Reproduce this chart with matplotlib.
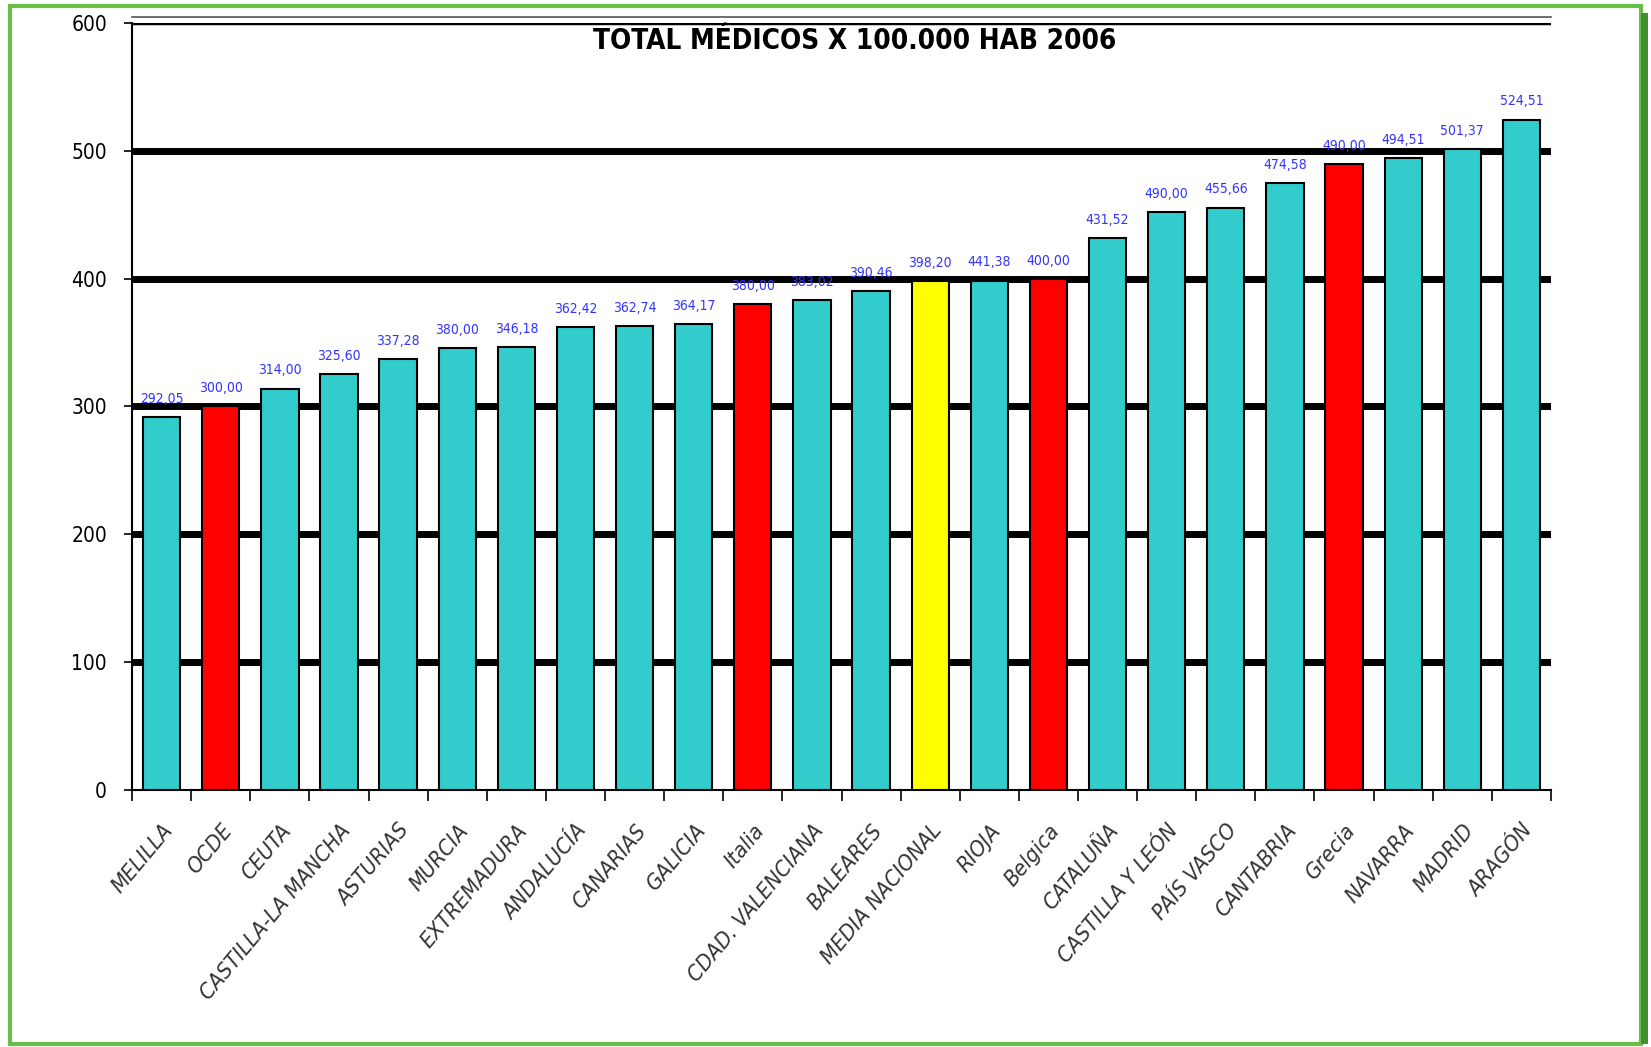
import matplotlib.pyplot as plt
import numpy as np
from matplotlib.patches import Rectangle

regiones = ['MELILLA', 'OCDE', 'CEUTA', 'CASTILLA-LA MANCHA', 'ASTURIAS', 'MURCIA',
            'EXTREMADURA', 'ANDALUCÍA', 'CANARIAS', 'GALICIA', 'Italia',
            'CDAD. VALENCIANA', 'BALEARES', 'MEDIA NACIONAL', 'RIOJA', 'Belgica',
            'CATALUÑA', 'CASTILLA Y LEÓN', 'PAÍS VASCO', 'CANTABRIA', 'Grecia',
            'NAVARRA', 'MADRID', 'ARAGÓN']
medicos = [292.05, 300.0, 314.0, 325.6, 337.28, 346.0, 346.18, 362.42, 362.74, 364.17,
           380.0, 383.02, 390.46, 398.2, 398.5, 400.0, 431.52, 452.0, 455.66, 474.58,
           490.0, 494.51, 501.37, 524.51]
etiquetas = ['292,05', '300,00', '314,00', '325,60', '337,28', '380,00', '346,18', '362,42',
             '362,74', '364,17', '380,00', '383,02', '390,46', '398,20', '441,38', '400,00',
             '431,52', '490,00', '455,66', '474,58', '490,00', '494,51', '501,37', '524,51']
internacional = ['OCDE', 'Italia', 'Belgica', 'Grecia']
media = 'MEDIA NACIONAL'

plt.rcParams['font.family'] = 'DejaVu Sans'
plt.rcParams['font.stretch'] = 'condensed'

colores = []
for r in regiones:
    if r in internacional:
        colores.append('#ff0000')
    elif r == media:
        colores.append('#ffff00')
    else:
        colores.append('#33cccc')

fig = plt.figure(figsize=(16.51, 10.47), dpi=100)
ax = fig.add_axes([0.080, 0.2455, 0.8594, 0.7325])

# el borde superior se pone antes: set_position reinicia los ticks
ax.spines['right'].set_visible(False)
ax.spines['left'].set_linewidth(1.5)
ax.spines['bottom'].set_linewidth(1.5)
ax.spines['top'].set_color('#555555')
ax.spines['top'].set_linewidth(1.2)
ax.spines['top'].set_position(('outward', 4))

x = np.arange(len(regiones))
ax.bar(x, medicos, 0.63, color=colores, edgecolor='black', linewidth=1.5, zorder=3)

# lineas gruesas de la cuadricula
for v in [100, 200, 300, 400, 500]:
    ax.axhline(v, color='black', linewidth=5, zorder=1)
ax.axhline(600, color='black', linewidth=2.5, zorder=1)

for xi, h, t in zip(x, medicos, etiquetas):
    ax.annotate(t, (xi, h), xytext=(0, 8), textcoords='offset points', ha='center',
                va='bottom', color='#3333ff', fontsize=10)

ax.set_xlim(-0.5, len(regiones) - 0.5)
ax.set_ylim(0, 600)
ax.set_yticks([0, 100, 200, 300, 400, 500, 600])
ax.tick_params(axis='y', length=6, width=1.2, labelsize=15, pad=12)

ax.set_xticks(np.arange(-0.5, len(regiones)), minor=True)
ax.tick_params(axis='x', which='major', length=0, pad=22)
ax.tick_params(axis='x', which='minor', length=8, width=1.2)
ax.set_xticks(x)
ax.set_xticklabels(regiones, rotation=50, ha='right', rotation_mode='anchor',
                   fontsize=16, style='italic', color='#333333')

ax.text(0.509, 0.976, 'TOTAL MÉDICOS X 100.000 HAB 2006', transform=ax.transAxes,
        ha='center', va='center', fontsize=20, fontweight='bold')

# marco verde
fig.patches.append(Rectangle((0.006, 0.003), 0.988, 0.991, transform=fig.transFigure,
                             fill=False, edgecolor='#6abf4b', linewidth=3))
fig.patches.append(Rectangle((0.994, 0.003), 0.004, 0.985, transform=fig.transFigure,
                             facecolor='#3f8f2f', edgecolor='none'))

fig.savefig('out.png', dpi=100)
